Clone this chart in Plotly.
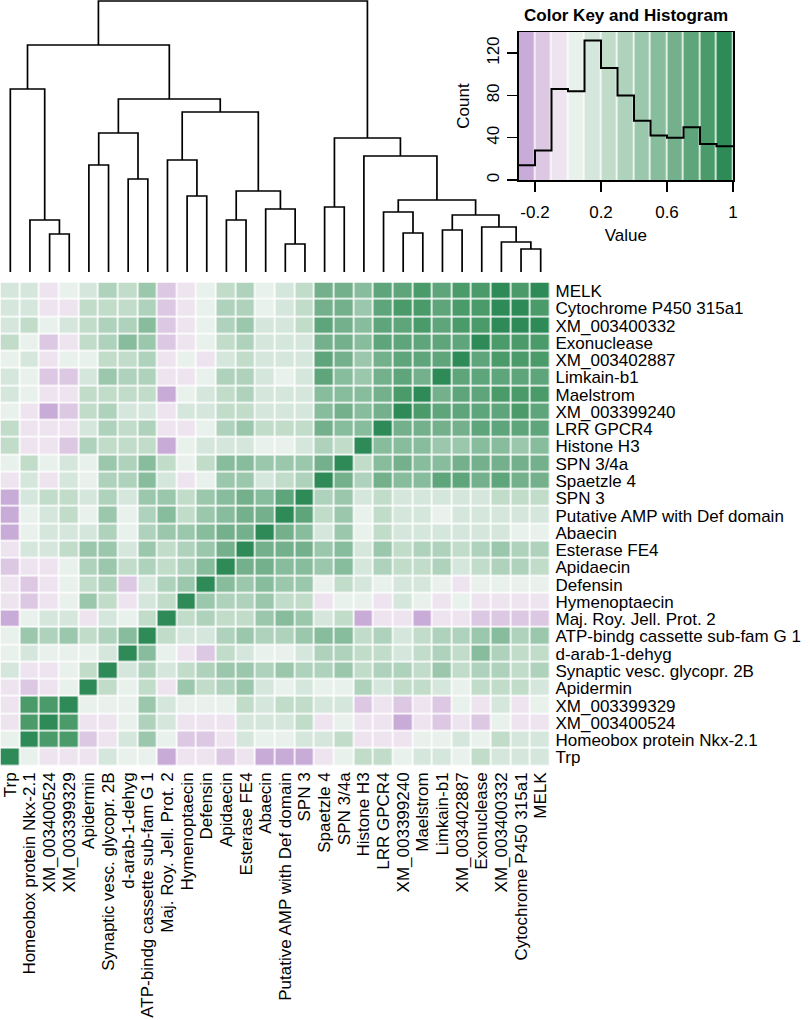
import plotly.graph_objects as go

# ---------------- data ----------------
genes = ["Trp", "Homeobox protein Nkx-2.1", "XM_003400524", "XM_003399329", "Apidermin",
         "Synaptic vesc. glycopr. 2B", "d-arab-1-dehyg", "ATP-bindg cassette sub-fam G 1",
         "Maj. Roy. Jell. Prot. 2", "Hymenoptaecin", "Defensin", "Apidaecin", "Esterase FE4",
         "Abaecin", "Putative AMP with Def domain", "SPN 3", "Spaetzle 4", "SPN 3/4a",
         "Histone H3", "LRR GPCR4", "XM_003399240", "Maelstrom", "Limkain-b1", "XM_003402887",
         "Exonuclease", "XM_003400332", "Cytochrome P450 315a1", "MELK"]

# lower triangle of the correlation matrix: corr_lower[i][j] for j < i (leaf order)
corr_lower = [
    [],
    [0.05],
    [-0.05, 0.85],
    [-0.05, 0.85, 0.89],
    [-0.05, -0.15, -0.05, 0.05],
    [0.15, -0.05, -0.05, 0.05, 0.25],
    [0.05, 0.15, 0.05, 0.05, 0.05, 0.15],
    [0.05, 0.45, 0.35, 0.45, 0.25, 0.35, 0.55],
    [-0.25, 0.05, 0.15, 0.15, -0.05, 0.15, 0.05, 0.25],
    [-0.05, -0.15, -0.05, 0.05, 0.45, 0.25, -0.05, 0.15, 0.25],
    [-0.05, -0.15, -0.05, 0.05, 0.25, 0.35, -0.15, 0.15, 0.35, 0.45],
    [-0.15, -0.05, -0.05, 0.05, 0.35, 0.45, 0.25, 0.35, 0.25, 0.35, 0.52],
    [-0.05, 0.15, 0.15, 0.25, 0.45, 0.45, 0.15, 0.45, 0.25, 0.35, 0.45, 0.62],
    [-0.25, 0.05, 0.15, 0.15, 0.15, 0.35, 0.05, 0.35, 0.45, 0.45, 0.55, 0.65, 0.62],
    [-0.25, 0.05, 0.15, 0.25, 0.05, 0.45, 0.05, 0.35, 0.55, 0.25, 0.45, 0.58, 0.66, 0.62],
    [-0.25, 0.15, 0.25, 0.25, 0.15, 0.35, 0.15, 0.45, 0.45, 0.25, 0.45, 0.55, 0.68, 0.58, 0.78],
    [-0.05, 0.15, -0.05, 0.15, 0.05, 0.35, 0.35, 0.55, 0.15, -0.05, 0.05, 0.42, 0.45, 0.15, 0.22,
     0.35],
    [0.05, 0.25, 0.05, 0.15, 0.05, 0.45, 0.35, 0.55, 0.25, 0.05, 0.25, 0.52, 0.55, 0.45, 0.45,
     0.48, 0.62],
    [0.25, -0.05, -0.05, -0.15, 0.35, 0.25, 0.25, 0.25, -0.25, 0.05, 0.15, 0.15, 0.12, 0.05, 0.05,
     0.15, 0.32, 0.28],
    [0.25, -0.05, -0.05, -0.05, 0.15, 0.35, 0.25, 0.35, -0.05, -0.05, 0.08, 0.35, 0.45, 0.25, 0.25,
     0.25, 0.62, 0.58, 0.55],
    [0.05, -0.05, -0.25, -0.15, 0.25, 0.35, 0.15, 0.15, -0.05, 0.15, 0.18, 0.25, 0.25, 0.15, 0.15,
     0.15, 0.52, 0.62, 0.55, 0.65],
    [0.15, 0.05, -0.05, -0.05, 0.25, 0.25, 0.25, 0.25, -0.25, 0.05, 0.15, 0.25, 0.35, 0.15, 0.15,
     0.15, 0.55, 0.55, 0.55, 0.65, 0.85],
    [0.15, 0.05, -0.15, -0.15, 0.15, 0.45, 0.35, 0.35, -0.05, -0.05, 0.02, 0.35, 0.35, 0.15, 0.05,
     0.15, 0.72, 0.55, 0.42, 0.62, 0.72, 0.65],
    [0.05, 0.15, -0.05, 0.05, 0.05, 0.25, 0.25, 0.35, -0.05, 0.05, -0.05, 0.15, 0.25, 0.15, 0.15,
     0.15, 0.72, 0.62, 0.42, 0.62, 0.72, 0.72, 0.75],
    [0.25, 0.05, -0.15, -0.05, 0.22, 0.35, 0.52, 0.42, -0.15, -0.05, 0.02, 0.25, 0.35, 0.15, 0.15,
     0.15, 0.65, 0.62, 0.58, 0.75, 0.75, 0.72, 0.75, 0.75],
    [0.15, 0.25, 0.05, 0.15, 0.25, 0.35, 0.32, 0.52, -0.15, -0.05, 0.05, 0.35, 0.45, 0.15, 0.15,
     0.25, 0.78, 0.68, 0.52, 0.75, 0.75, 0.85, 0.75, 0.85, 0.85],
    [0.15, 0.15, -0.05, -0.05, 0.22, 0.25, 0.25, 0.35, -0.15, -0.05, 0.05, 0.35, 0.35, 0.05, 0.15,
     0.25, 0.62, 0.62, 0.42, 0.75, 0.85, 0.85, 0.75, 0.85, 0.85, 0.92],
    [0.15, 0.15, -0.05, 0.05, 0.15, 0.35, 0.25, 0.45, -0.15, -0.05, 0.05, 0.25, 0.35, 0.05, 0.15,
     0.25, 0.68, 0.62, 0.55, 0.75, 0.75, 0.85, 0.75, 0.85, 0.85, 0.91, 0.82],
]

# dendrogram merges: (left id, right id, height); leaves 0..27, new nodes 28, 29, ...
merges = [
    (2, 3, 0.38), (1, 28, 0.52), (0, 29, 1.83), (4, 5, 1.07), (6, 7, 0.93), (31, 32, 1.39),
    (9, 10, 0.76), (8, 34, 1.12), (11, 12, 0.52), (14, 15, 0.28), (13, 37, 0.63),
    (36, 38, 0.81), (35, 39, 1.60), (33, 40, 1.73), (30, 41, 2.27), (16, 17, 0.65),
    (20, 21, 0.39), (19, 44, 0.60), (22, 23, 0.42), (26, 27, 0.23), (25, 47, 0.30),
    (24, 48, 0.45), (46, 49, 0.57), (45, 50, 0.72), (18, 51, 1.16), (43, 52, 1.34),
    (42, 53, 2.71),
]

# colour key / histogram
breaks = [-0.3, -0.2, -0.1, 0.0, 0.1, 0.2, 0.3, 0.4, 0.5, 0.6, 0.7, 0.8, 0.9, 1.0]
hist_counts = [14, 28, 86, 84, 132, 106, 80, 56, 42, 40, 50, 34, 32]
band_colors = ["#c8abd6", "#dcc8e2", "#ede4f0", "#e8f1eb", "#d5e7dc", "#c2dcca", "#afd2bc",
               "#9bc7ac", "#87bc9c", "#73b08b", "#5fa57b", "#4a9a6a", "#2e8b57"]

# ---------------- build ----------------
n = len(genes)
M = [[1.0] * n for _ in range(n)]
for i in range(n):
    for j in range(i):
        M[i][j] = corr_lower[i][j]
        M[j][i] = corr_lower[i][j]

nb = len(band_colors)
cscale = []
for k, c in enumerate(band_colors):
    cscale.append([k / nb, c])
    cscale.append([(k + 1) / nb, c])
zmin, zmax = breaks[0], breaks[-1]

FONT = "Liberation Sans, Arial, Helvetica, sans-serif"
W, H = 810, 1020


def px_x(p):
    return p / W


def px_y(p):
    return 1 - p / H


fig = go.Figure()

# heatmap
fig.add_trace(go.Heatmap(
    z=M, x=list(range(n)), y=list(range(n)), colorscale=cscale, zmin=zmin, zmax=zmax,
    xgap=1.6, ygap=1.6, showscale=False, hoverinfo="skip", xaxis="x", yaxis="y"))

# dendrogram
pos = {i: (float(i), 0.0) for i in range(n)}
dx, dy = [], []
for k, (a, b, h) in enumerate(merges):
    xa, ha = pos[a]
    xb, hb = pos[b]
    dx += [xa, xa, xb, xb, None]
    dy += [ha, h, h, hb, None]
    pos[n + k] = ((xa + xb) / 2, h)
fig.add_trace(go.Scatter(x=dx, y=dy, mode="lines", line=dict(color="black", width=1.7),
                         hoverinfo="skip", showlegend=False, xaxis="x2", yaxis="y2",
                         cliponaxis=False))

# colour key bands
centers = [(breaks[k] + breaks[k + 1]) / 2 for k in range(nb)]
fig.add_trace(go.Heatmap(z=[centers], x=breaks, y=[0, 140], colorscale=cscale, zmin=zmin,
                         zmax=zmax, xgap=1.5, showscale=False, hoverinfo="skip",
                         xaxis="x3", yaxis="y3"))
fig.add_trace(go.Scatter(x=breaks, y=hist_counts + [hist_counts[-1]], mode="lines",
                         line=dict(color="black", width=2, shape="hv"), hoverinfo="skip",
                         showlegend=False, xaxis="x3", yaxis="y3"))

hm_x = [px_x(0.5), px_x(550.5)]
fig.update_layout(
    width=W, height=H, margin=dict(l=0, r=0, t=0, b=0),
    paper_bgcolor="white", plot_bgcolor="white", showlegend=False,
    font=dict(family=FONT, size=17, color="black"),
    xaxis=dict(domain=hm_x, range=[-0.5, n - 0.5], tickvals=list(range(n)), ticktext=genes,
               tickangle=-90, ticks="", showgrid=False, zeroline=False, showline=False,
               automargin=False, anchor="y", ticklabelstandoff=2, tickfont=dict(size=17)),
    yaxis=dict(domain=[px_y(766), px_y(282.5)], range=[-0.5, n - 0.5],
               tickvals=list(range(n)), ticktext=genes, side="right", ticks="",
               showgrid=False, zeroline=False, showline=False, automargin=False,
               anchor="x", ticklabelstandoff=4, tickfont=dict(size=17)),
    xaxis2=dict(domain=hm_x, range=[-0.5, n - 0.5], visible=False, anchor="y2"),
    yaxis2=dict(domain=[px_y(272), 1.0], range=[0, 2.72], visible=False, anchor="x2"),
    xaxis3=dict(domain=[px_x(518.5), px_x(733)], range=[breaks[0], breaks[-1]],
                tickvals=[-0.2, 0.2, 0.6, 1.0], ticktext=["-0.2", "0.2", "0.6", "1"],
                ticks="outside", ticklen=10, tickwidth=1.3, tickcolor="black",
                showline=True, mirror=True, linecolor="black", linewidth=1.5,
                showgrid=False, zeroline=False, automargin=False, anchor="y3",
                ticklabelstandoff=6,
                title=dict(text="Value", standoff=8, font=dict(size=17))),
    yaxis3=dict(domain=[px_y(180), px_y(32)], range=[0, 140],
                tickvals=[0, 40, 80, 120], tickangle=-90,
                ticks="outside", ticklen=10, tickwidth=1.3, tickcolor="black",
                showline=True, mirror=True, linecolor="black", linewidth=1.5,
                showgrid=False, zeroline=False, automargin=False, anchor="x3",
                ticklabelstandoff=1,
                title=dict(text="Count", standoff=10, font=dict(size=17))),
    annotations=[dict(text="<b>Color Key and Histogram</b>", x=px_x(626), y=px_y(16),
                      xref="paper", yref="paper", xanchor="center", yanchor="middle",
                      showarrow=False, font=dict(size=17, family=FONT))],
)

fig.write_html("out.html", config={"displayModeBar": False, "staticPlot": True},
               post_script="document.body.style.margin='0';document.body.style.overflow='hidden';")
